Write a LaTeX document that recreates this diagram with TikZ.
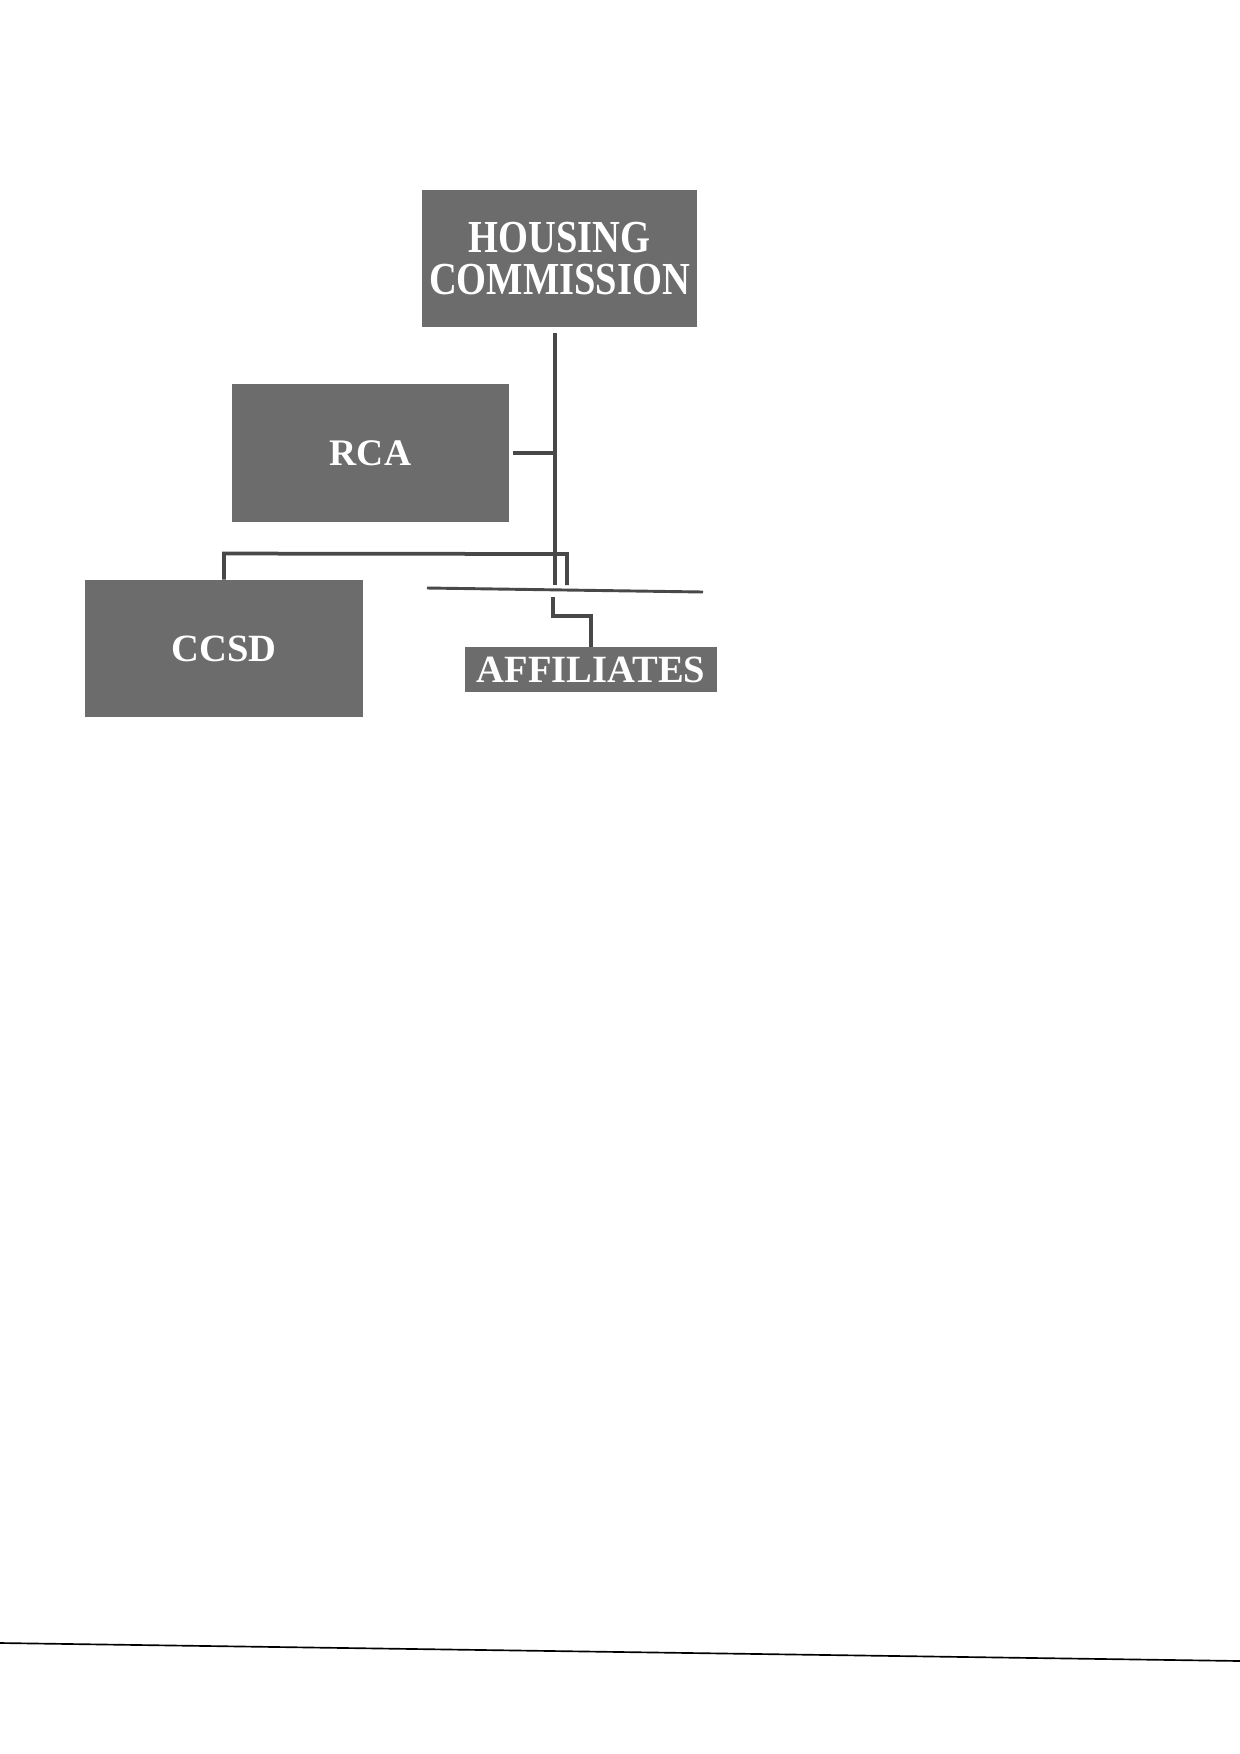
\documentclass[tikz,border=0pt]{standalone}
\usepackage{fontspec}
\setmainfont{Liberation Serif}
\usetikzlibrary{positioning}
\definecolor{boxgray}{RGB}{108,108,108}
\definecolor{linegray}{RGB}{72,72,72}
\tikzset{
  orgbox/.style={fill=boxgray, text=white, inner sep=0pt, align=center},
  link/.style={draw=linegray, line width=1.8pt}
}
\begin{document}
\begin{tikzpicture}[x=0.48pt, y=-0.48pt]
  \useasboundingbox (0,0) rectangle (1240,1754);
  % boxes
  \node [orgbox, minimum width=132pt, minimum height=65.8pt,
         font=\bfseries\fontsize{22}{20.5}\selectfont] (hc) at (559.5,258.5)
     {\scalebox{0.84}[1]{HOUSING}\\\scalebox{0.84}[1]{COMMISSION}};
  \node [orgbox, minimum width=133pt, minimum height=66pt,
         font=\bfseries\fontsize{18}{22}\selectfont] (rca) at (370.5,453) {RCA};
  \node [orgbox, minimum width=133.4pt, minimum height=65.8pt,
         font=\bfseries\fontsize{18.5}{22}\selectfont] (ccsd) at (224,648.5) {CCSD};
  \node [orgbox, minimum width=121pt, minimum height=21.6pt,
         font=\bfseries\fontsize{18.5}{22}\selectfont] (aff) at (591,669.5) {AFFILIATES};
  % connectors
  \coordinate (top) at (555,333);
  \coordinate (bot) at (555,585);
  \coordinate (hook) at (567,585);
  \coordinate (ll) at (427,588);
  \coordinate (lr) at (703,592);
  \coordinate (low) at (553,597);
  \draw [link] (top) -- (bot);
  \draw [link] (rca.east) ++(4,0) -- (rca.east -| top);
  \draw [link] (ccsd.north) -- ++(0,-26) -- (567,554) -- (hook);
  \draw [draw=linegray, line width=1.4pt] (ll) -- (lr);
  \draw [link] (low) -- ++(0,19) -| (aff.north);
  % scan edge
  \draw [black, line width=0.8pt] (0,1643) -- (1240,1661);
\end{tikzpicture}
\end{document}
